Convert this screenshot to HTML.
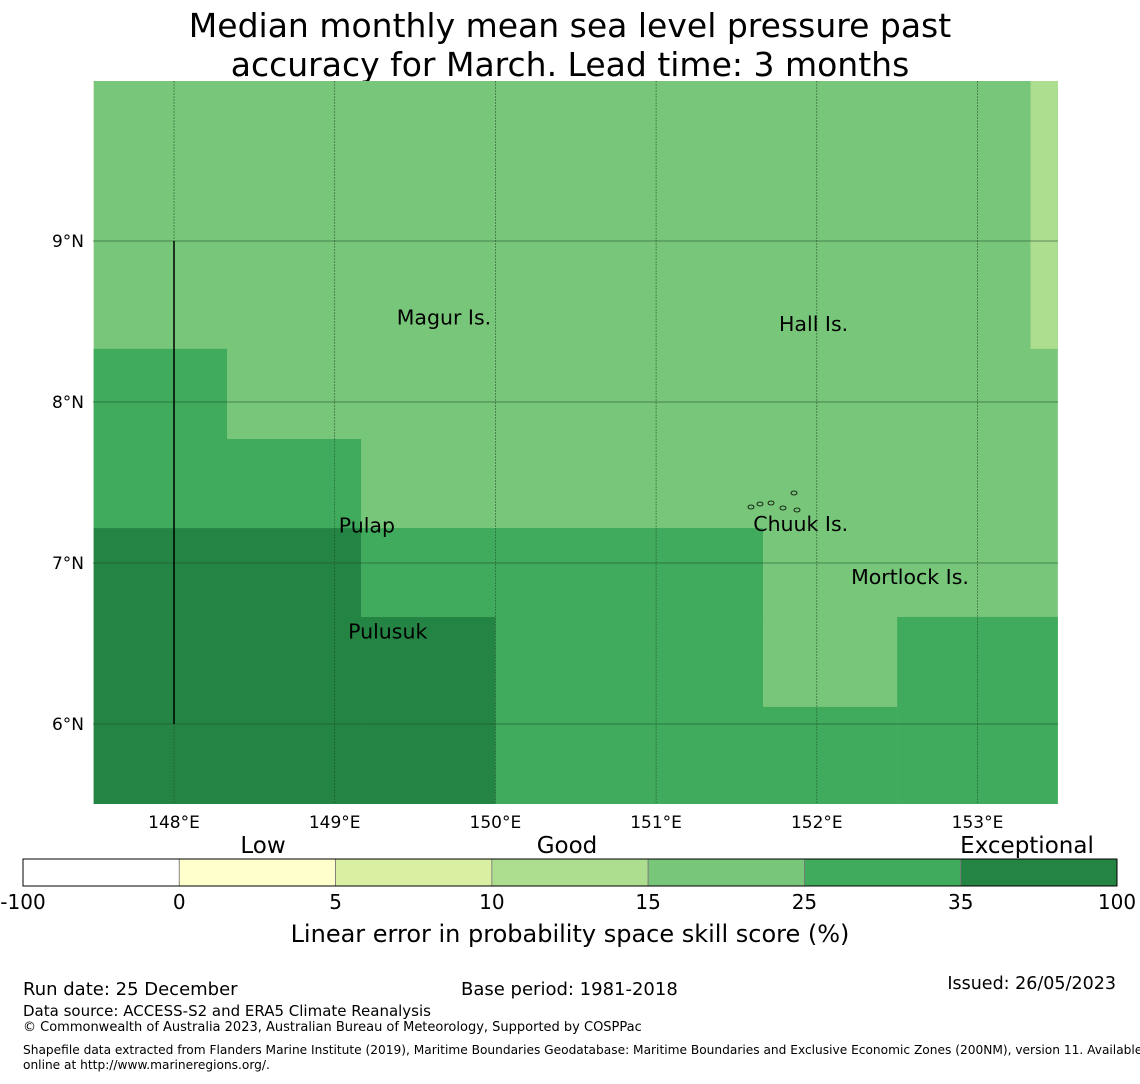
<!DOCTYPE html>
<html><head><meta charset="utf-8">
<style>
body{margin:0;background:#fff;font-family:"DejaVu Sans","Liberation Sans",sans-serif;}
svg text{font-family:"DejaVu Sans","Liberation Sans",sans-serif;}
</style></head>
<body>
<svg id="chart" width="1140" height="1080" viewBox="0 0 1140 1080" xmlns="http://www.w3.org/2000/svg">
<text x="570" y="37" font-size="33" text-anchor="middle">Median monthly mean sea level pressure past</text>
<text x="570" y="76" font-size="33" text-anchor="middle">accuracy for March. Lead time: 3 months</text>
<g id="map"></g>
<g id="cbar"></g>
<text x="570" y="942" font-size="24" text-anchor="middle">Linear error in probability space skill score (%)</text>
<text x="23" y="995" font-size="18">Run date: 25 December</text>
<text x="461" y="995" font-size="18">Base period: 1981-2018</text>
<text x="1116" y="989" font-size="17.5" text-anchor="end">Issued: 26/05/2023</text>
<text x="23" y="1016" font-size="15">Data source: ACCESS-S2 and ERA5 Climate Reanalysis</text>
<text x="23" y="1031" font-size="13">© Commonwealth of Australia 2023, Australian Bureau of Meteorology, Supported by COSPPac</text>
<text x="23" y="1054" font-size="12.2">Shapefile data extracted from Flanders Marine Institute (2019), Maritime Boundaries Geodatabase: Maritime Boundaries and Exclusive Economic Zones (200NM), version 11. Available</text>
<text x="23" y="1069" font-size="12.2">online at http://www.marineregions.org/.</text>
</svg>
<script>
// data
const lonTicks=[148,149,150,151,152,153];
const latTicks=[9,8,7,6];
// cells: [lon0, lon1, lat0, lat1] and skill values
const cellLon0=[147.5,153.33,147.5,148.33,149.164,150,151.665,152.5,147.5,149.164];
const cellLon1=[153.5,153.5,148.33,149.164,151.665,151.665,152.5,153.5,149.164,150];
const cellLat0=[5.5,8.33,7.217,7.217,6.665,5.5,5.5,5.5,5.5,5.5];
const cellLat1=[10,10,8.33,7.77,7.217,6.665,6.106,6.665,7.217,6.665];
const cellVal=[20,12,30,30,30,30,30,30,50,50];
const binEdges=[-100,0,5,10,15,25,35,100];
const binColors=["#ffffff","#ffffcc","#d9f0a3","#addd8e","#78c679","#41ab5d","#238443"];
const binLabels=["-100","0","5","10","15","25","35","100"];
const places=["Magur Is.","Hall Is.","Pulap","Chuuk Is.","Mortlock Is.","Pulusuk"];
const placeLon=[149.68,151.98,149.2,151.9,152.58,149.33];
const placeLat=[8.48,8.44,7.19,7.2,6.87,6.53];

const NS="http://www.w3.org/2000/svg";
const X0=93,X1=1058,Y0=81,Y1=804;
const xs=lon=>174+(lon-148)*160.7;
const ys=lat=>241-(lat-9)*161;
const cx=v=>Math.min(X1,Math.max(X0,v)), cy=v=>Math.min(Y1,Math.max(Y0,v));
function mk(tag,attrs,parent){const e=document.createElementNS(NS,tag);for(const k in attrs)e.setAttribute(k,attrs[k]);parent.appendChild(e);return e;}
function colorFor(v){for(let i=0;i<binColors.length;i++){if(v<binEdges[i+1])return binColors[i];}return binColors[binColors.length-1];}
const map=document.getElementById('map');
for(let i=0;i<cellVal.length;i++){
  const x0=cx(xs(cellLon0[i])),x1=cx(xs(cellLon1[i])),y0=cy(ys(cellLat1[i])),y1=cy(ys(cellLat0[i]));
  const r=mk('rect',{x:x0,y:y0,width:x1-x0,height:y1-y0,fill:colorFor(cellVal[i])},map);
  
  
}
lonTicks.forEach(l=>{
  const x=xs(l);
  const g=mk('line',{x1:x,x2:x,y1:Y0,y2:Y1,stroke:'#1f4f2a','stroke-width':0.7,'stroke-dasharray':'2,1','stroke-opacity':0.75},map);
  
  
  const t=mk('text',{x:x,y:828,'font-size':17,'text-anchor':'middle'},map);t.textContent=l+'°E';
  
  
});
latTicks.forEach(l=>{
  const y=ys(l);
  const g=mk('line',{x1:X0,x2:X1,y1:y,y2:y,stroke:'#1f4f2a','stroke-width':0.7,'stroke-opacity':0.75},map);
  
  
  const t=mk('text',{x:84,y:y+6,'font-size':17,'text-anchor':'end'},map);t.textContent=l+'°N';
  
  
});
const bl=mk('line',{x1:xs(148),x2:xs(148),y1:ys(9),y2:ys(6),stroke:'#000','stroke-width':1.5},map);


places.forEach((p,i)=>{
  const t=mk('text',{x:xs(placeLon[i]),y:ys(placeLat[i]),'font-size':20.5,'text-anchor':'middle'},map);t.textContent=p;
  
  
});
[[751,507],[760,504],[771,503],[783,508],[797,510],[794,493]].forEach(([x,y])=>{
  const e=mk('ellipse',{cx:x,cy:y,rx:3,ry:2,fill:'none',stroke:'#000','stroke-width':0.8},map);
  
  
});
const cb=document.getElementById('cbar');
const CB0=23,CB1=1117,n=binColors.length,w=(CB1-CB0)/n;
for(let i=0;i<n;i++){
  const r=mk('rect',{x:CB0+i*w,y:859,width:w,height:27,fill:binColors[i],stroke:'#777','stroke-width':0.8},cb);
  
  
}
mk('rect',{x:CB0,y:859,width:CB1-CB0,height:27,fill:'none',stroke:'#000','stroke-width':1},cb);
binLabels.forEach((l,i)=>{
  const t=mk('text',{x:CB0+i*w,y:909,'font-size':20,'text-anchor':'middle'},cb);t.textContent=l;
  
  
});
[["Low",263],["Good",567],["Exceptional",1027]].forEach(([s,x])=>{
  const t=mk('text',{x:x,y:853,'font-size':23,'text-anchor':'middle'},cb);t.textContent=s;
  
  
});
</script>
</body></html>
